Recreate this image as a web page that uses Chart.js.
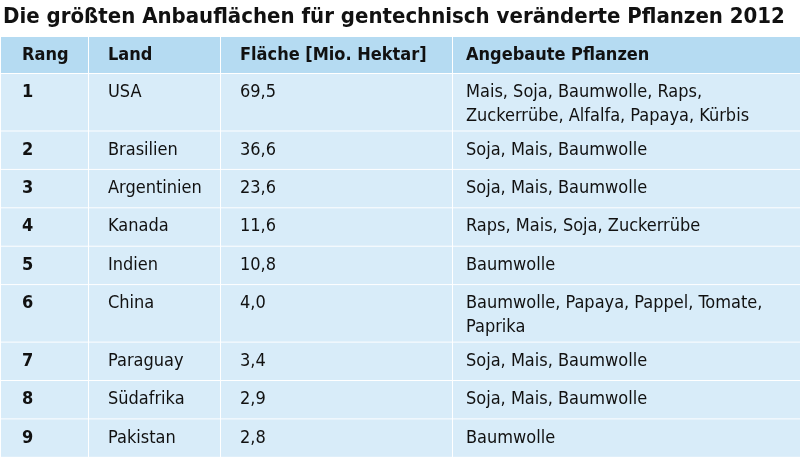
<!DOCTYPE html><html><head><meta charset="utf-8">
<script src="https://cdn.jsdelivr.net/npm/chart.js@4/dist/chart.umd.min.js"></script>
<style>html,body{margin:0;padding:0;background:#fff}#w{width:800px;height:458px}</style></head><body>
<div id="w"><canvas id="c"></canvas></div>
<script>
const title = "Die größten Anbauflächen für gentechnisch veränderte Pflanzen 2012";
const headers = ["Rang", "Land", "Fläche [Mio. Hektar]", "Angebaute Pflanzen"];
const ranks = ["1","2","3","4","5","6","7","8","9"];
const countries = ["USA","Brasilien","Argentinien","Kanada","Indien","China","Paraguay","Südafrika","Pakistan"];
const areas = [69.5,36.6,23.6,11.6,10.8,4.0,3.4,2.9,2.8];
const plants = [
 ["Mais, Soja, Baumwolle, Raps,","Zuckerrübe, Alfalfa, Papaya, Kürbis"],
 ["Soja, Mais, Baumwolle"],["Soja, Mais, Baumwolle"],["Raps, Mais, Soja, Zuckerrübe"],
 ["Baumwolle"],["Baumwolle, Papaya, Pappel, Tomate,","Paprika"],
 ["Soja, Mais, Baumwolle"],["Soja, Mais, Baumwolle"],["Baumwolle"]];
const colEdges = [1, 88, 220, 452, 800];
const textX = [22, 108, 240, 466];

const FONT = '"DejaVu Sans Condensed", "DejaVu Sans", sans-serif';
const tablePlugin = {
  id: 'table',
  afterDraw(chart) {
    const ctx = chart.ctx, xs = chart.scales.x, ys = chart.scales.y;
    const X = v => xs.getPixelForValue(v), Y = v => ys.getPixelForValue(v);
    ctx.save();
    ctx.fillStyle = '#111';
    ctx.font = 'bold 22px ' + FONT;
    ctx.textBaseline = 'middle';
    ctx.fillText(title, X(3), Y(17));
    const rows = [{h:37, head:true}];
    ranks.forEach((r,i)=>rows.push({h: plants[i].length>1 ? 57.5 : 38.4, i}));
    let y = 36;
    const lineH = 24;
    rows.forEach(row => {
      for (let c=0;c<4;c++){
        ctx.fillStyle = row.head ? '#b5dbf2' : '#d8ecf9';
        ctx.fillRect(X(colEdges[c])+ (c?1:0), Y(y)+1, X(colEdges[c+1])-X(colEdges[c])-(c?1:0), Y(y+row.h)-Y(y)-1);
      }
      ctx.fillStyle = '#111';
      const ty = y + 19.5;
      if (row.head) {
        ctx.font = 'bold 18px ' + FONT;
        headers.forEach((h,c)=>ctx.fillText(h, X(textX[c]), Y(ty)));
      } else {
        const i = row.i;
        ctx.font = 'bold 18px ' + FONT;
        ctx.fillText(ranks[i], X(textX[0]), Y(ty));
        ctx.font = '18px ' + FONT;
        ctx.fillText(countries[i], X(textX[1]), Y(ty));
        ctx.fillText(areas[i].toFixed(1).replace('.', ','), X(textX[2]), Y(ty));
        plants[i].forEach((p,k)=>ctx.fillText(p, X(textX[3]), Y(ty + k*lineH)));
      }
      y += row.h;
    });
    ctx.restore();
  }
};
new Chart(document.getElementById('c'), {
  type: 'scatter',
  data: { datasets: [{ data: [], pointRadius: 0 }] },
  options: {
    responsive: true, maintainAspectRatio: false, animation: false,
    layout: { padding: 0 },
    plugins: { legend: {display:false}, tooltip: {enabled:false} },
    scales: {
      x: { type:'linear', min:0, max:800, display:false },
      y: { type:'linear', min:0, max:458, reverse:true, display:false }
    }
  },
  plugins: [tablePlugin]
});
</script></body></html>
